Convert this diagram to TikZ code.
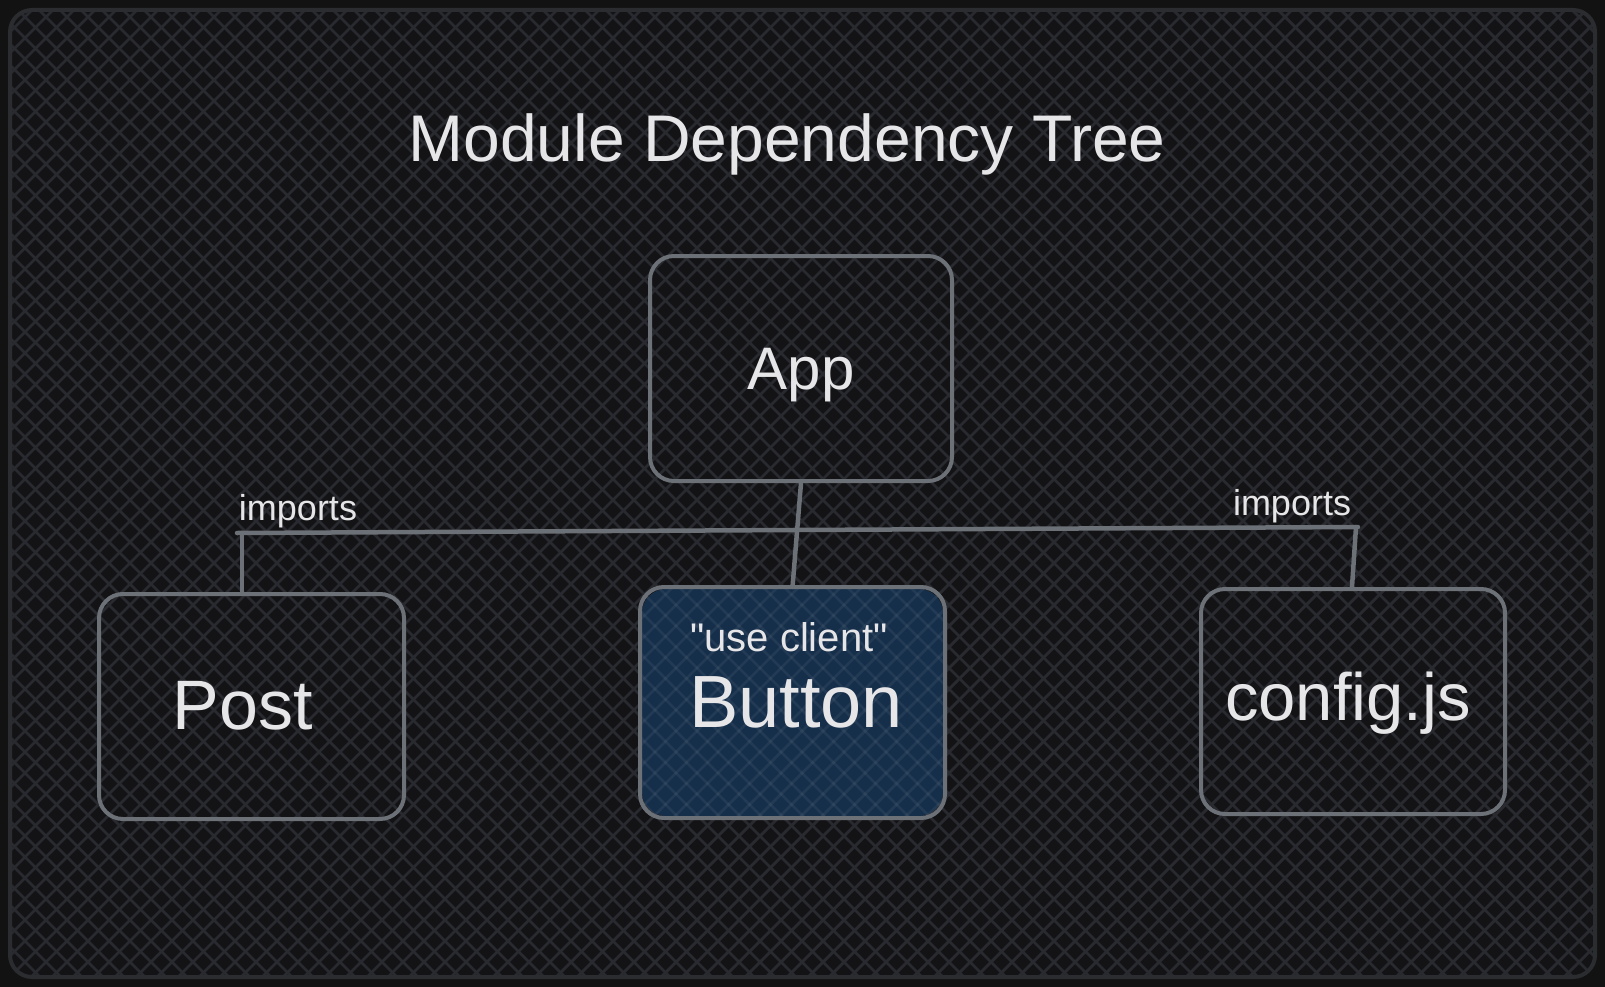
\documentclass[tikz,border=0pt]{standalone}
\usepackage{fontspec}
\setmainfont{Liberation Sans}
\definecolor{pagebg}{HTML}{121212}
\definecolor{panelbg}{HTML}{131315}
\definecolor{hatch}{HTML}{292A2F}
\definecolor{frame}{HTML}{2B2C30}
\definecolor{boxline}{HTML}{6C7077}
\definecolor{txt}{HTML}{E6E6E8}
\definecolor{bluefill}{HTML}{152E4A}
\tikzset{
  modbox/.style={draw=boxline, line width=4pt, rounded corners=24pt, minimum width=#1, minimum height=225pt, inner sep=0pt},
  modbox/.default=302pt,
  lbl/.style={text=txt, anchor=base, inner sep=0pt},
  conn/.style={draw=boxline, line width=4.5pt, line cap=round},
}
\begin{document}
\begin{tikzpicture}[x=1pt,y=-1pt]
\useasboundingbox (0,0) rectangle (1605,987);
\fill[pagebg] (0,0) rectangle (1605,987);
\fill[panelbg, rounded corners=22pt] (10,10) rectangle (1595,977);
\begin{scope}
  \clip[rounded corners=22pt] (10,10) rectangle (1595,977);
  \foreach \k in {0,21,...,2640} {
    \draw[hatch, line width=2.8pt] (\k,0) -- (\k-1000,1000);
    \draw[hatch, line width=2.8pt] (\k-1000,0) -- (\k,1000);
  }
\end{scope}
\draw[frame, line width=4pt, rounded corners=22pt] (10,10) rectangle (1595,977);

% title
\node[lbl, font=\fontsize{66}{66}\selectfont] (title) at (787,162) {Module Dependency Tree};

% boxes
\node[modbox=302pt] (app) at (801,368.5) {};
\node[modbox=305pt] (post) at (251.5,706.5) {};
\node[modbox=301pt, draw=none, fill=bluefill, minimum height=227pt] (button) at (792.5,702.5) {};
\begin{scope}
  \clip[rounded corners=24pt] (button.north west) rectangle (button.south east);
  \foreach \k in {0,21,...,2640} {
    \draw[white, opacity=0.06, line width=2.8pt] (\k,0) -- (\k-1000,1000);
    \draw[white, opacity=0.06, line width=2.8pt] (\k-1000,0) -- (\k,1000);
  }
\end{scope}
\draw[boxline, line width=4pt, rounded corners=24pt] (button.north west) rectangle (button.south east);
\node[modbox=304pt] (config) at (1353,701.5) {};

% labels
\node[lbl, font=\fontsize{60}{60}\selectfont] (applbl) at (801,389) {App};
\node[lbl, font=\fontsize{70}{70}\selectfont] (postlbl) at (243,729) {Post};
\node[lbl, font=\fontsize{40}{40}\selectfont] (uselbl) at (789,651) {\textquotedbl use client\textquotedbl};
\node[lbl, font=\fontsize{74}{74}\selectfont] (buttonlbl) at (796,727) {Button};
\node[lbl, font=\fontsize{67}{67}\selectfont] (configlbl) at (1348,720) {config.js};

% connectors
\coordinate (jl) at (237,533);
\coordinate (jr) at (1358,527);
\coordinate (pl) at (242,533);
\coordinate (pr) at (1356,527);
\draw[conn] (jl) -- (jr);
\draw[conn] (app.south) -- (button.north);
\draw[conn] (pl) -- (pl |- post.north);
\draw[conn] (pr) -- (config.north -| 1352,0);

\node[lbl, font=\fontsize{36}{36}\selectfont] (imp1) at (298,520) {imports};
\node[lbl, font=\fontsize{36}{36}\selectfont] (imp2) at (1292,515) {imports};
\end{tikzpicture}
\end{document}
